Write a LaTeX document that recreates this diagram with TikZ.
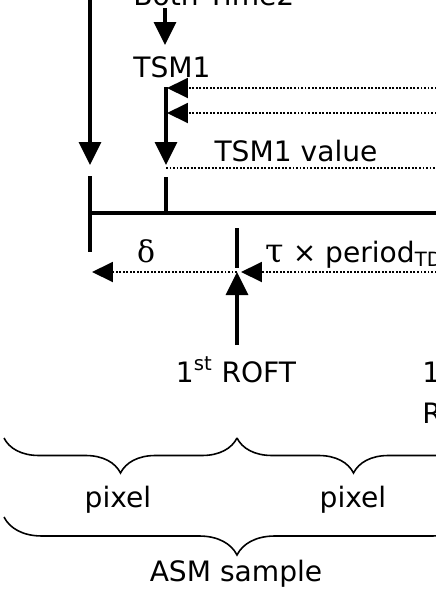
\documentclass[tikz,border=0pt]{standalone}
\usepackage{fontspec}
\setmainfont{DejaVu Sans}
\newfontfamily\grkfont{DejaVu Serif}
\usetikzlibrary{arrows.meta,decorations.pathreplacing}

\begin{document}
\begin{tikzpicture}[x=0.02cm, y=-0.02cm,
    lbl/.style={font=\fontsize{16}{23}\selectfont, inner sep=0pt},
    bar/.style={line width=2pt},
    sig/.style={line width=2pt, -{Triangle[length=0.46cm,width=0.44cm]}},
    dots/.style={line width=1.1pt, dash pattern=on 1.1pt off 0.9pt, -{Triangle[length=0.42cm,width=0.40cm]}},
    brc/.style={line width=0.9pt, decorate, decoration={brace, mirror, amplitude=#1}}
  ]
    \useasboundingbox (0,0) rectangle (436,616);
    \clip (0,0) rectangle (436,616);

    % labels
    \node[lbl, anchor=base west] (both) at (133,5) {Both Time2};
    \node[lbl] (tsm) at (172,67) {TSM1};
    \node[lbl, anchor=base] (tsmval) at (296,161) {TSM1 value};
    \node[lbl, anchor=base] (delta) at (146,262) {{\grkfont\fontsize{17}{20}\selectfont δ}};
    \node[lbl, anchor=base west] (tau) at (265,262) {{\grkfont\fontsize{19}{20}\selectfont τ} × period\textsubscript{TD}};
    \node[lbl, anchor=base] (roft) at (236,382) {1\textsuperscript{st} ROFT};
    \node[lbl, anchor=base west, align=left] (roftb) at (422,423) {1\textsuperscript{st}\\ROFT};
    \node[lbl] (pixa) at (118,500) {pixel};
    \node[lbl] (pixb) at (353,500) {pixel};
    \node[lbl] (asm) at (236,574) {ASM sample};

    % points
    \coordinate (bothfoot) at (165,8);
    \coordinate (tsmtip) at (165,45);
    \coordinate (ltop) at (90,-5);
    \coordinate (lhit) at (90,165);
    \coordinate (lbot) at (90,176);
    \coordinate (lend) at (90,252);
    \coordinate (ttop) at (166,87);
    \coordinate (thit) at (166,165);
    \coordinate (tbot) at (166,177);
    \coordinate (tjoin) at (166,213);
    \coordinate (hl) at (89,213);
    \coordinate (hr) at (440,213);
    \coordinate (reqa) at (440,88);
    \coordinate (reqb) at (440,113);
    \coordinate (tipa) at (167,88);
    \coordinate (tipb) at (167,113);
    \coordinate (vall) at (166,168);
    \coordinate (valr) at (440,168);
    \coordinate (tick) at (237,228);
    \coordinate (tickend) at (237,268);
    \coordinate (roftfoot) at (237,345);
    \coordinate (meet) at (237,272);
    \coordinate (dtip) at (92,272);
    \coordinate (per) at (440,272);
    \coordinate (ptip) at (241,272);

    \draw[sig] (bothfoot) -- (tsmtip);
    \draw[sig] (ltop) -- (lhit);
    \draw[sig] (ttop) -- (thit);
    \draw[bar] (lbot) -- (lend);
    \draw[bar] (tbot) -- (tjoin);
    \draw[bar] (hl) -- (hr);
    \draw[dots] (reqa) -- (tipa);
    \draw[dots] (reqb) -- (tipb);
    \draw[dots, -] (vall) -- (valr);
    \draw[bar] (tick) -- (tickend);
    \draw[sig] (roftfoot) -- (meet);
    \draw[dots] (meet) -- (dtip);
    \draw[dots] (per) -- (ptip);

    % braces
    \draw[brc=0.7cm] (4,438) -- (237,438);
    \draw[brc=0.7cm] (237,438) -- (470,438);
    \draw[brc=0.76cm] (4,517) -- (470,517);
\end{tikzpicture}
\end{document}
